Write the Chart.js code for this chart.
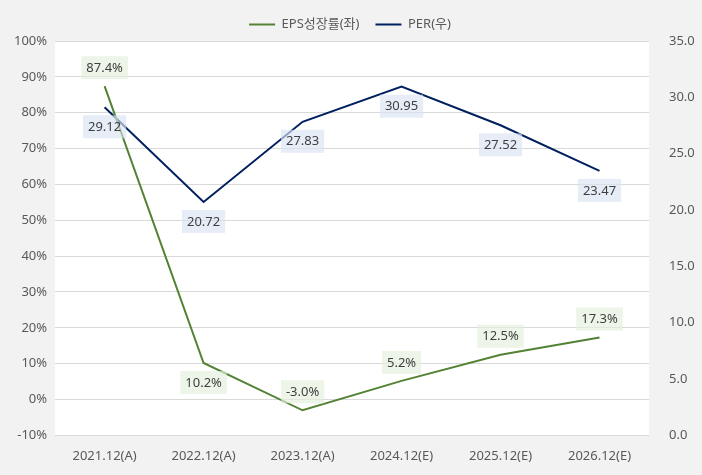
<!DOCTYPE html>
<html>
<head>
<meta charset="utf-8">
<script src="https://cdn.jsdelivr.net/npm/chart.js@4.4.0/dist/chart.umd.min.js"></script>
<style>
  html, body { margin: 0; padding: 0; background: #f2f2f2; }
  #wrap { width: 702px; height: 475px; }
</style>
</head>
<body>
<div id="wrap"><canvas id="lineChart"></canvas></div>
<script>
var labels = ['2021.12(A)', '2022.12(A)', '2023.12(A)', '2024.12(E)', '2025.12(E)', '2026.12(E)'];
var epsGrowth = [87.4, 10.2, -3.0, 5.2, 12.5, 17.3];
var per = [29.12, 20.72, 27.83, 30.95, 27.52, 23.47];
// where the value label sits: -1 above the point, 1 below
var epsLabelPos = [-1, 1, -1, -1, -1, -1];
var perLabelPos = [1, 1, 1, 1, 1, 1];

var FONT = "'Noto Sans', 'Noto Sans CJK KR', sans-serif";

// white plot area on a grey page
var plotBg = {
    id: 'plotBg',
    beforeDraw: function(chart) {
        var ctx = chart.ctx, a = chart.chartArea;
        ctx.save();
        ctx.fillStyle = '#ffffff';
        ctx.fillRect(a.left, a.top, a.right - a.left, a.bottom - a.top);
        ctx.restore();
    }
};

// value boxes
var valueLabels = {
    id: 'valueLabels',
    afterDatasetsDraw: function(chart) {
        var ctx = chart.ctx;
        ctx.save();
        ctx.font = '13px ' + FONT;
        ctx.textAlign = 'center';
        ctx.textBaseline = 'middle';
        chart.data.datasets.forEach(function(ds, i) {
            var meta = chart.getDatasetMeta(i);
            meta.data.forEach(function(pt, j) {
                var txt = ds.labelText(ds.data[j]);
                var y = pt.y + ds.labelPos[j] * 19;
                var w = ctx.measureText(txt).width + 10;
                ctx.fillStyle = ds.labelBg;
                ctx.fillRect(pt.x - w / 2, y - 11, w, 23);
                ctx.fillStyle = '#404040';
                ctx.fillText(txt, pt.x, y + 1);
            });
        });
        ctx.restore();
    }
};

var ctx = document.getElementById('lineChart').getContext('2d');
var myChart = new Chart(ctx, {
    type: 'line',
    data: {
        labels: labels,
        datasets: [{
            label: 'EPS성장률(좌)',
            data: epsGrowth,
            yAxisID: 'y',
            borderColor: '#548235',
            backgroundColor: '#548235',
            borderWidth: 2,
            pointRadius: 0,
            tension: 0,
            labelPos: epsLabelPos,
            labelBg: 'rgba(226, 239, 218, 0.65)',
            labelText: function(v) { return v.toFixed(1) + '%'; }
        }, {
            label: 'PER(우)',
            data: per,
            yAxisID: 'y1',
            borderColor: '#002060',
            backgroundColor: '#002060',
            borderWidth: 2,
            pointRadius: 0,
            tension: 0,
            labelPos: perLabelPos,
            labelBg: 'rgba(218, 227, 243, 0.65)',
            labelText: function(v) { return v.toFixed(2); }
        }]
    },
    options: {
        responsive: true,
        maintainAspectRatio: false,
        animation: false,
        layout: { padding: { left: 6, right: 8, top: 2, bottom: 6 } },
        plugins: {
            legend: {
                position: 'top',
                labels: {
                    usePointStyle: true,
                    pointStyle: 'line',
                    pointStyleWidth: 26,
                    color: '#595959',
                    font: { family: FONT, size: 13 },
                    padding: 16,
                    boxHeight: 12
                }
            },
            tooltip: { enabled: false }
        },
        scales: {
            x: {
                offset: true,
                grid: { display: false },
                border: { display: false },
                ticks: { color: '#595959', font: { family: FONT, size: 13 }, padding: 5 }
            },
            y: {
                position: 'left',
                min: -10,
                max: 100,
                ticks: {
                    stepSize: 10,
                    color: '#595959',
                    font: { family: FONT, size: 13 },
                    padding: 8,
                    callback: function(v) { return v + '%'; }
                },
                grid: { color: '#d9d9d9', drawTicks: false },
                border: { display: false }
            },
            y1: {
                position: 'right',
                min: 0,
                max: 35,
                afterFit: function(scale) { scale.width = 45; },
                ticks: {
                    stepSize: 5,
                    color: '#595959',
                    font: { family: FONT, size: 13 },
                    padding: 12,
                    callback: function(v) { return v.toFixed(1); }
                },
                grid: { display: false },
                border: { display: false }
            }
        }
    },
    plugins: [plotBg, valueLabels]
});
</script>
</body>
</html>
